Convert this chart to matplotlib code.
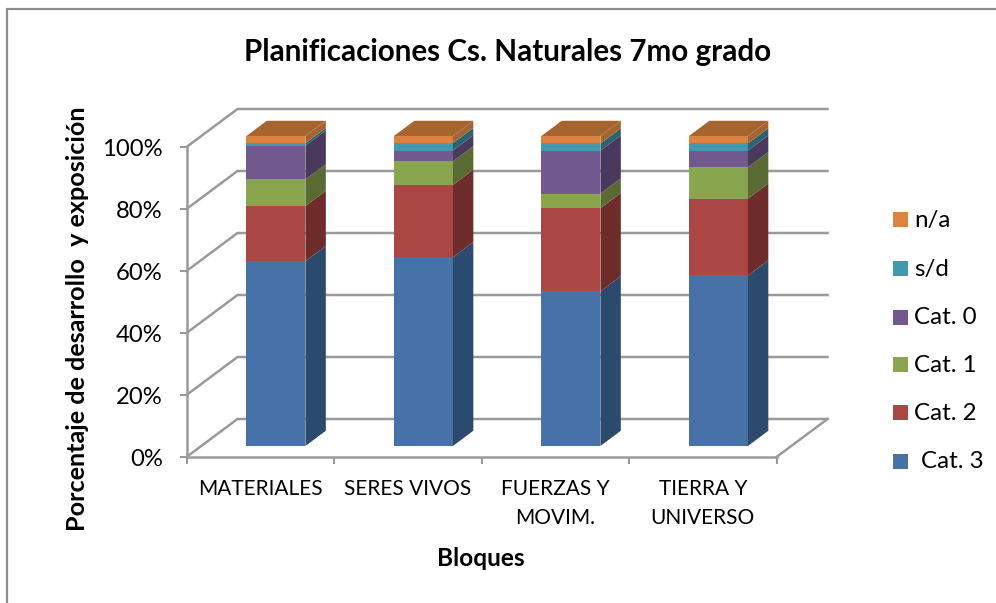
import numpy as np
import matplotlib
matplotlib.use('Agg')
import matplotlib.pyplot as plt
from matplotlib.lines import Line2D
from matplotlib.patches import Polygon, Rectangle

categories = ['MATERIALES', 'SERES VIVOS', 'FUERZAS Y\nMOVIM.', 'TIERRA Y\nUNIVERSO']
series_names = ['Cat. 3', 'Cat. 2', 'Cat. 1', 'Cat. 0', 's/d', 'n/a']
cat3 = [59.6, 60.9, 49.9, 55.0]
cat2 = [17.8, 23.3, 26.8, 24.8]
cat1 = [8.6, 7.6, 4.7, 10.1]
cat0 = [10.9, 3.5, 13.9, 5.4]
sd = [0.8, 2.4, 2.3, 2.3]
na = [2.3, 2.3, 2.4, 2.4]
y_ticks = [0, 20, 40, 60, 80, 100]

front_colors = ['#4672A8', '#AA4643', '#89A54E', '#71588F', '#4198AF', '#DB843D']
side_colors = ['#2C4A6E', '#6E2C2A', '#596B32', '#49395D', '#2A6372', '#A66530']
top_color = '#A6652E'
grid_color = '#9A9A9A'

W, H = 996, 603
plt.rcParams['font.family'] = ['Lato', 'DejaVu Sans']

fig = plt.figure(figsize=(W / 100, H / 100), dpi=100)
fig.patch.set_facecolor('white')

# outer frame, open on the right and bottom
fig.add_artist(Line2D([7 / W, 7 / W, 1], [0, 1 - 9 / H, 1 - 9 / H], transform=fig.transFigure,
                      color='#8C8C8C', lw=1.6, solid_joinstyle='miter'))

# plot box in pixels: corner at (186.5, 457), 100% at y=147, last tick at x=776.5
ax = fig.add_axes([186.5 / W, 1 - 457 / H, 590 / W, 310 / H])
ax.set_xlim(-0.5, 3.5)
ax.set_ylim(0, 100)
ax.patch.set_visible(False)

# depth of the oblique projection, in data units
depth_x = 51 / 147.5
depth_y = 38 / 3.1
bar_w = 59 / 147.5
front_d = 0.29
back_d = 0.69
x_lo, x_hi = ax.get_xlim()

def proj(x, y, d):
    return x + d * depth_x, y + d * depth_y

# wall gridlines
for t in y_ticks:
    ax.plot(*zip(proj(x_lo, t, 0), proj(x_lo, t, 1), proj(x_hi, t, 1)),
            color=grid_color, lw=1.8, clip_on=False, zorder=1, solid_joinstyle='miter')
ax.plot(*zip(proj(x_hi, 0, 0), proj(x_hi, 0, 1)), color=grid_color, lw=1.8, clip_on=False, zorder=1)

# stacked bars
stack = np.array([cat3, cat2, cat1, cat0, sd, na])
bottoms = np.vstack([np.zeros(4), np.cumsum(stack, axis=0)[:-1]])
for k in range(len(categories)):
    x0 = k - bar_w / 2 + 0.006
    x1 = x0 + bar_w
    for s in range(len(series_names)):
        b = bottoms[s, k]
        t = b + stack[s, k]
        ax.add_patch(Polygon([proj(x0, b, front_d), proj(x1, b, front_d),
                              proj(x1, t, front_d), proj(x0, t, front_d)],
                             facecolor=front_colors[s], edgecolor='none', clip_on=False, zorder=3))
        ax.add_patch(Polygon([proj(x1, b, front_d), proj(x1, b, back_d),
                              proj(x1, t, back_d), proj(x1, t, front_d)],
                             facecolor=side_colors[s], edgecolor='none', clip_on=False, zorder=3))
    top = bottoms[-1, k] + stack[-1, k]
    ax.add_patch(Polygon([proj(x0, top, front_d), proj(x1, top, front_d),
                          proj(x1, top, back_d), proj(x0, top, back_d)],
                         facecolor=top_color, edgecolor='none', clip_on=False, zorder=3))

for name in ['top', 'right']:
    ax.spines[name].set_visible(False)
for name in ['left', 'bottom']:
    ax.spines[name].set_color(grid_color)
    ax.spines[name].set_linewidth(1.8)

ax.set_yticks(y_ticks)
ax.set_yticklabels([f'{t}%' for t in y_ticks], fontsize=17.2)
ax.set_xticks(np.arange(-0.5, 4, 1))
ax.set_xticklabels([])
ax.set_xticks(np.arange(len(categories)), minor=True)
ax.set_xticklabels(categories, minor=True, fontsize=15, linespacing=1.62, va='top')
ax.tick_params(axis='x', which='major', length=5, width=1.5, color=grid_color)
ax.tick_params(axis='x', which='minor', length=0, pad=15.5)
ax.tick_params(axis='y', length=5, width=1.5, color=grid_color, pad=12)

ax.set_ylabel('Porcentaje de desarrollo  y exposición', fontsize=18.1, fontweight='bold')
ax.yaxis.set_label_coords(-0.166, 0.445)
fig.text(481 / W, 1 - 558 / H, 'Bloques', fontsize=17.6, fontweight='bold', ha='center', va='center')
fig.text(508 / W, 1 - 52 / H, 'Planificaciones Cs. Naturales 7mo grado', fontsize=21.3,
         fontweight='bold', ha='center', va='center')

# legend, drawn by hand to keep the uneven Word-style spacing
legend_y = [461, 412, 364, 317, 268, 219]
legend_txt = [921, 914, 914, 914, 914, 914]
for s, name in enumerate(series_names):
    fig.add_artist(Rectangle((893 / W, 1 - (legend_y[s] + 7.5) / H), 15 / W, 15 / H,
                             transform=fig.transFigure, facecolor=front_colors[s], edgecolor='none'))
    fig.text(legend_txt[s] / W, 1 - (legend_y[s] + 1) / H, name, fontsize=17.4, ha='left', va='center')

fig.savefig('out.png', dpi=100)
